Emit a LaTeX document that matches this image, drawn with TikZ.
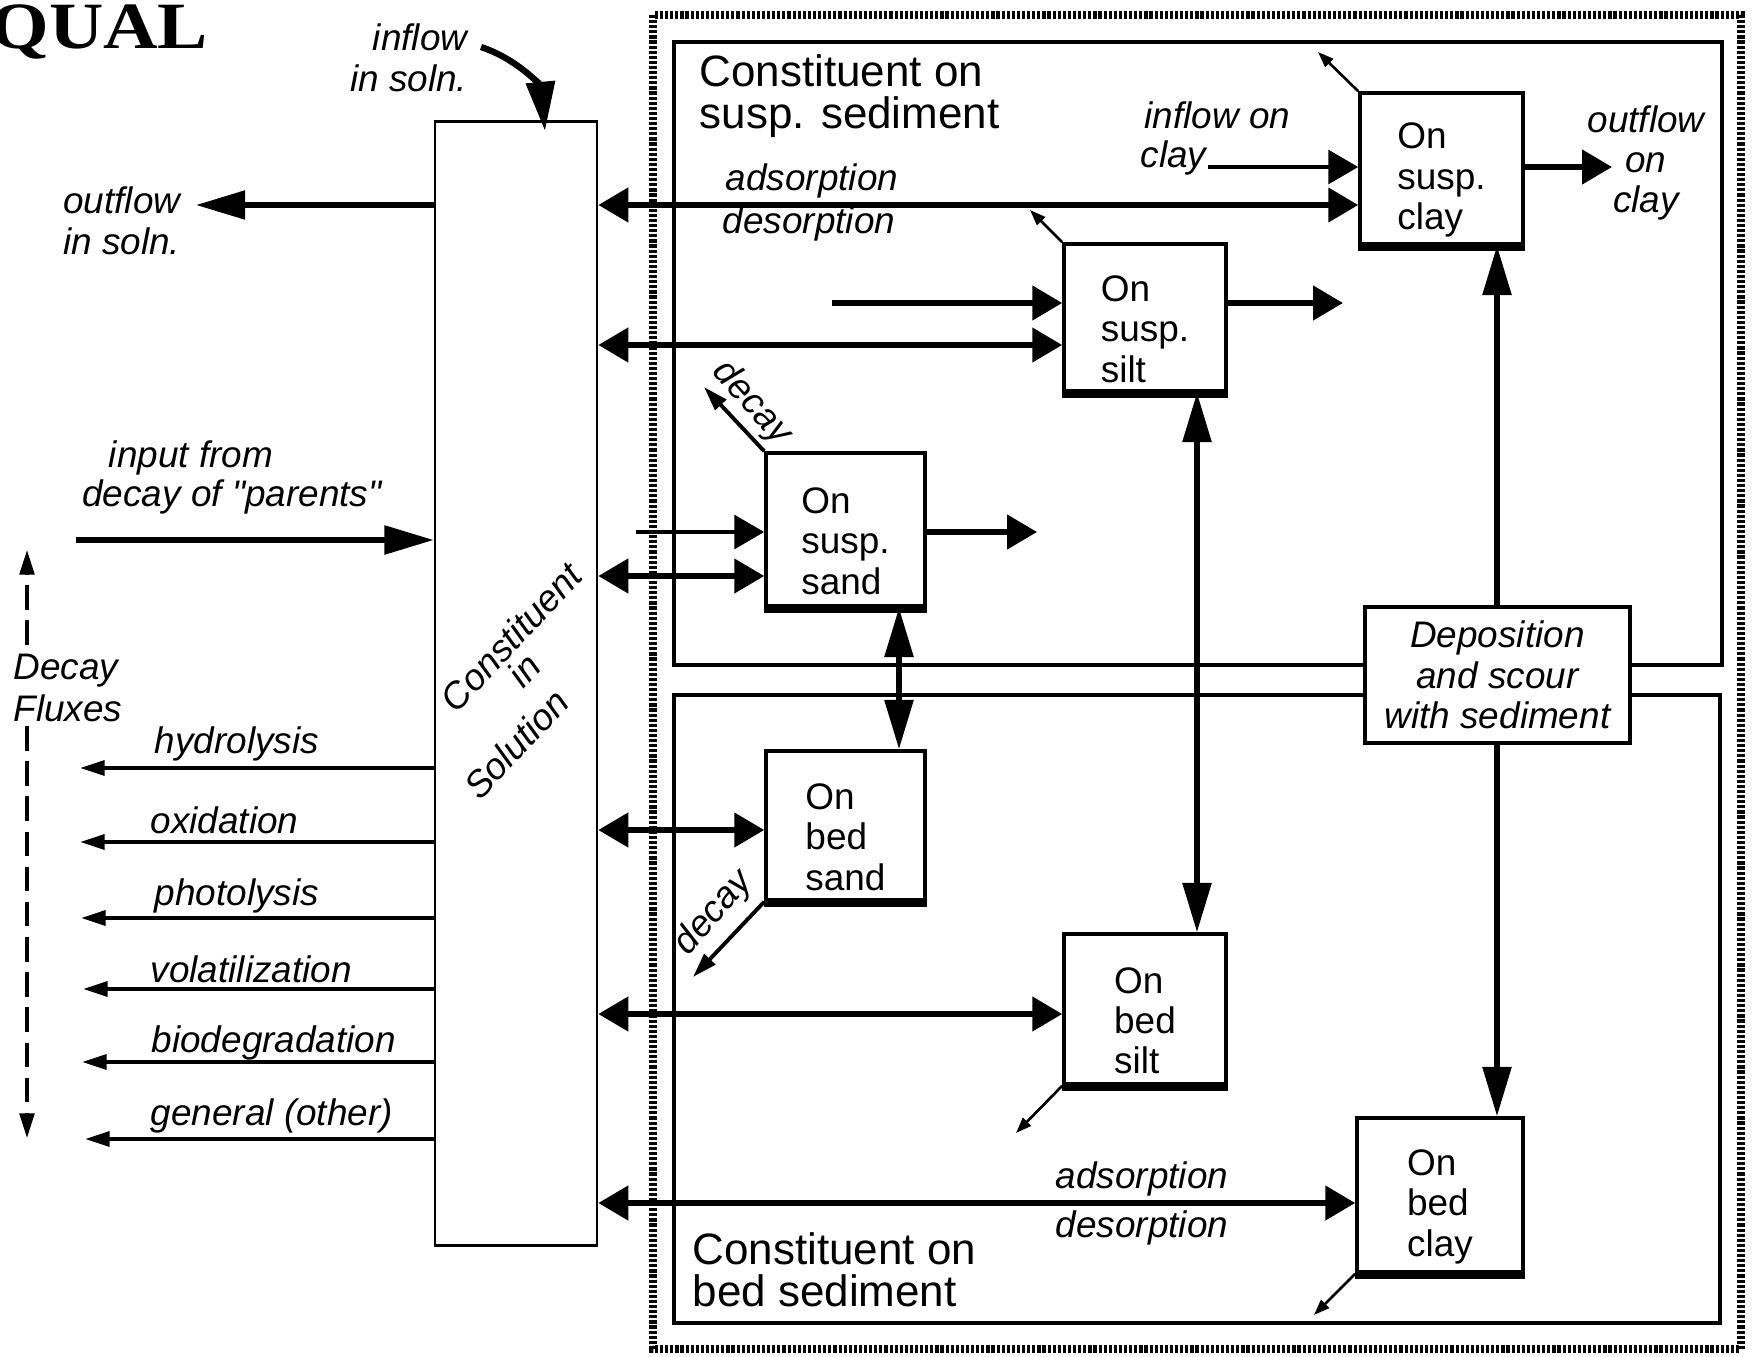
\documentclass[tikz,border=0pt]{standalone}
\usepackage{fontspec}
\setmainfont{Liberation Sans}
\newfontfamily\qualfont{Liberation Serif}
\newfontfamily\plainq{Liberation Sans}
\usetikzlibrary{arrows.meta}
\tikzset{
  hbig/.tip={Triangle[length=8.5pt,width=9.6pt]},
  vlong/.tip={Triangle[length=14pt,width=8pt]},
  fhead/.tip={Triangle[length=7pt,width=4.2pt]},
  shead/.tip={Triangle[length=4.5pt,width=3.2pt]},
  thk/.style={line width=1.5pt},
  med/.style={line width=1.1pt},
  thn/.style={line width=0.75pt},
  cbox/.style={draw, line width=1pt, fill=white, inner sep=0pt, align=left,
    font=\fontsize{10.5}{11.5}\selectfont},
  lbl/.style={inner sep=0pt, font=\fontsize{10.5}{11.5}\selectfont\itshape},
  biglbl/.style={inner sep=0pt, align=left, font=\fontsize{12.5}{12}\selectfont},
}
\newcommand\lowtop{\rule{0pt}{14pt}}
\begin{document}
\begin{tikzpicture}[x=0.01cm,y=-0.01cm]
\useasboundingbox (0,0) rectangle (1753,1357);
\clip (0,0) rectangle (1753,1357);

% title
\node[anchor=base east, inner sep=0pt, xscale=1.14, font=\qualfont\bfseries\fontsize{18.8}{18.8}\selectfont] (title) at (209,48) {QUAL};

% outer dotted frame and inner compartments
\draw[line width=2pt, dash pattern=on 0.9pt off 0.55pt] (653,15) rectangle (1741,1349);
\draw[line width=1pt] (674,42) rectangle (1722,665);
\draw[line width=1pt] (674,695) rectangle (1720,1323);

% solution box
\node[draw, line width=0.75pt, minimum width=1.62cm, minimum height=11.23cm, inner sep=0pt] (sol) at (516,683.5) {};
\node[lbl, rotate=47] (cs1) at (511,637) {Constituent};
\node[lbl, rotate=47] (cs2) at (524,670) {in};
\node[lbl, rotate=47] (cs3) at (516,744) {Solution};

% sediment boxes
\node[cbox, minimum width=1.63cm, minimum height=1.51cm] (sclay) at (1441.5,168.5) {\lowtop On\\susp.\\clay};
\node[cbox, minimum width=1.62cm, minimum height=1.47cm] (ssilt) at (1145,317.5) {\lowtop On\\susp.\\silt};
\node[cbox, minimum width=1.59cm, minimum height=1.53cm] (ssand) at (845.5,529.5) {\lowtop On\\susp.\\sand};
\node[cbox, minimum width=1.59cm, minimum height=1.49cm] (bsand) at (845.5,825.5) {\lowtop On\\bed\\sand};
\node[cbox, minimum width=1.62cm, minimum height=1.50cm] (bsilt) at (1145,1009) {\lowtop On\\bed\\silt};
\node[cbox, minimum width=1.66cm, minimum height=1.54cm] (bclay) at (1440,1195) {\lowtop On\\bed\\clay};
\foreach \b in {sclay,ssilt,ssand,bsand,bsilt,bclay}
  \draw[line width=2pt] ([yshift=-0.6pt]\b.south west) -- ([yshift=-0.6pt]\b.south east);

\node[cbox, align=center, font=\fontsize{10.5}{11.5}\selectfont\itshape, minimum width=2.65cm, minimum height=1.36cm] (dep) at (1497.5,675) {Deposition\\and scour\\with sediment};

% compartment labels
\node[biglbl, anchor=north west] (susplbl) at (699,54) {Constituent on\\susp. sediment};
\node[biglbl, anchor=north west] (bedlbl) at (692,1232) {Constituent on\\bed sediment};

% outflow / inflow in solution
\coordinate (outsol) at (196,205);
\draw[thk,-{vlong}] (sol.west |- outsol) -- (outsol);
\node[lbl, align=right, anchor=east] (outsollbl) at (181,221) {outflow\\in soln.};
\coordinate (infsolA) at (481,47);
\coordinate (infsolB) at (545,131);
\draw[line width=1.8pt,-{vlong}] (infsolA) .. controls (520,60) and (541,88) .. (infsolB);
\node[lbl, align=right, anchor=east] (infsollbl) at (468,58) {inflow\\in soln.};

% input from parents
\coordinate (parin) at (76,540);
\draw[thk,-{vlong}] (parin) -- (sol.west |- parin);
\node[lbl, anchor=base] (par1) at (191,467) {input from};
\node[lbl, anchor=base] (par2) at (232,506) {decay of {\plainq"}parents{\plainq"}};

% decay fluxes
\coordinate (dfTop) at (27,550);
\coordinate (dfA) at (27,645);
\coordinate (dfB) at (27,726);
\coordinate (dfBot) at (27,1138);
\draw[line width=0.9pt, dash pattern=on 7pt off 3pt, -{fhead}] (dfA) -- (dfTop);
\draw[line width=0.9pt, dash pattern=on 7pt off 3pt, -{fhead}] (dfB) -- (dfBot);
\node[lbl, align=left, anchor=west, font=\fontsize{10.5}{12}\selectfont\itshape] (dflbl) at (13,688) {Decay\\Fluxes};

\coordinate (hyd) at (80,768);
\draw[med,-{fhead}] (sol.west |- hyd) -- (hyd);
\node[lbl, anchor=base west] (hydl) at (154,753) {hydrolysis};
\coordinate (oxi) at (80,842);
\draw[med,-{fhead}] (sol.west |- oxi) -- (oxi);
\node[lbl, anchor=base west] (oxil) at (150,833) {oxidation};
\coordinate (pho) at (81,918);
\draw[med,-{fhead}] (sol.west |- pho) -- (pho);
\node[lbl, anchor=base west] (phol) at (154,905) {photolysis};
\coordinate (vol) at (83,989);
\draw[med,-{fhead}] (sol.west |- vol) -- (vol);
\node[lbl, anchor=base west] (voll) at (150,982) {volatilization};
\coordinate (bio) at (82,1062);
\draw[med,-{fhead}] (sol.west |- bio) -- (bio);
\node[lbl, anchor=base west] (biol) at (151,1052) {biodegradation};
\coordinate (gen) at (85,1139);
\draw[med,-{fhead}] (sol.west |- gen) -- (gen);
\node[lbl, anchor=base west] (genl) at (150,1125) {general (other)};

% exchange arrows
\path (0,205) coordinate (yads) (0,345) coordinate (ysilt2) (0,576) coordinate (ysand2)
      (0,830) coordinate (ybsand) (0,1014) coordinate (ybsilt) (0,1203) coordinate (ybclay);
\draw[thk,{hbig}-{hbig}] (sol.east |- yads) -- (sclay.west |- yads);
\node[lbl, anchor=base west] (ads1) at (725,190) {adsorption};
\node[lbl, anchor=base west] (des1) at (722,233) {desorption};

\coordinate (clayin) at (1208,167);
\draw[med,-{hbig}] (clayin) -- (sclay.west |- clayin);
\node[lbl, anchor=base west] (infc1) at (1144,128) {inflow on};
\node[lbl, anchor=base west] (infc2) at (1140,167) {clay};
\coordinate (clayout) at (1612,167);
\draw[thk,-{hbig}] (sclay.east |- clayout) -- (clayout);
\node[lbl, align=center] (outc) at (1646,163) {outflow\\on\\clay};

\coordinate (siltin) at (832,303);
\draw[thk,-{hbig}] (siltin) -- (ssilt.west |- siltin);
\draw[thk,{hbig}-{hbig}] (sol.east |- ysilt2) -- (ssilt.west |- ysilt2);
\coordinate (siltout) at (1343,303);
\draw[thk,-{hbig}] (ssilt.east |- siltout) -- (siltout);

\coordinate (sandin) at (636,532);
\draw[med,-{hbig}] (sandin) -- (ssand.west |- sandin);
\draw[thk,{hbig}-{hbig}] (sol.east |- ysand2) -- (ssand.west |- ysand2);
\coordinate (sandout) at (1037,532);
\draw[thk,-{hbig}] (ssand.east |- sandout) -- (sandout);

\draw[thk,{hbig}-{hbig}] (sol.east |- ybsand) -- (bsand.west |- ybsand);
\draw[thk,{hbig}-{hbig}] (sol.east |- ybsilt) -- (bsilt.west |- ybsilt);
\draw[thk,{hbig}-{hbig}] (sol.east |- ybclay) -- (bclay.west |- ybclay);
\node[lbl, anchor=base west] (ads2) at (1055,1188) {adsorption};
\node[lbl, anchor=base west] (des2) at (1055,1237) {desorption};

% deposition and scour
\coordinate (xsand) at (899,0);
\coordinate (xsilt) at (1197,0);
\coordinate (xclay) at (1497,0);
\draw[thk,{vlong}-{vlong}] (ssand.south -| xsand) -- (bsand.north -| xsand);
\draw[thk,{vlong}-{vlong}] (ssilt.south -| xsilt) -- (bsilt.north -| xsilt);
\draw[thk,-{vlong}] (dep.north -| xclay) -- (sclay.south -| xclay);
\draw[thk,-{vlong}] (dep.south -| xclay) -- (bclay.north -| xclay);

% decay of sorbed constituent
\coordinate (dclay) at (1318,52);
\draw[thn,-{shead}] (sclay.north west) -- (dclay);
\coordinate (dsilt) at (1030,210);
\draw[thn,-{shead}] (ssilt.north west) -- (dsilt);
\coordinate (dsand) at (704,387);
\draw[med,-{fhead}] (ssand.north west) -- (dsand);
\node[lbl, rotate=-48] (dsandl) at (752,403) {decay};
\coordinate (dbsand) at (693,977);
\draw[med,-{fhead}] (bsand.south west) -- (dbsand);
\node[lbl, rotate=49] (dbsandl) at (714,913) {decay};
\coordinate (dbsilt) at (1016,1133);
\draw[thn,-{shead}] (bsilt.south west) -- (dbsilt);
\coordinate (dbclay) at (1314,1315);
\draw[thn,-{shead}] (bclay.south west) -- (dbclay);
\end{tikzpicture}
\end{document}
